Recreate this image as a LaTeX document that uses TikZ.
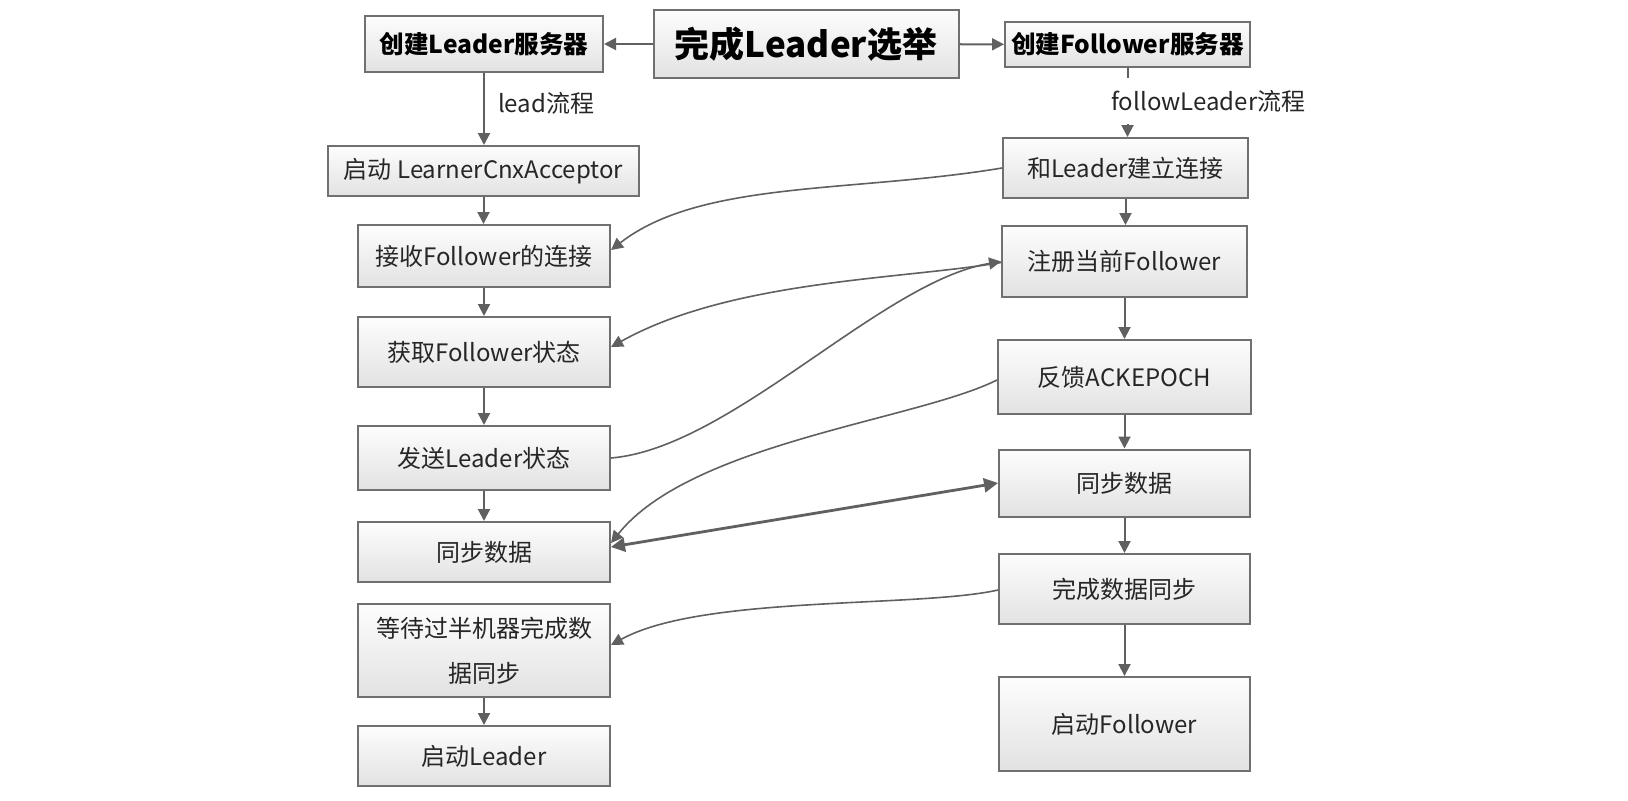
\documentclass[tikz,border=0pt]{standalone}
\usepackage{fontspec}
\setmainfont{Noto Sans CJK SC}
\usetikzlibrary{arrows.meta}
\definecolor{boxline}{RGB}{112,112,112}
\definecolor{arrowgray}{RGB}{96,96,96}
\definecolor{txtgray}{RGB}{38,38,38}
\definecolor{boxtop}{RGB}{253,253,253}
\definecolor{boxbot}{RGB}{226,226,226}
\tikzset{
  stepbox/.style={draw=boxline, line width=1pt, top color=boxtop, bottom color=boxbot,
    inner sep=0pt, align=center, font=\fontsize{12}{22.5}\selectfont, text=txtgray},
  headbox/.style={stepbox, font=\fontsize{12.3}{15}\selectfont\bfseries, text=black},
  titlebox/.style={stepbox, font=\fontsize{17.5}{20}\selectfont\bfseries, text=black},
  bsize/.style 2 args={minimum width=#1*0.5pt, minimum height=#2*0.5pt},
  flow/.style={-{Triangle[length=6pt,width=6pt]}, line width=1pt, arrowgray},
  back/.style={flow, line width=0.8pt},
  sync/.style={{Triangle[length=7pt,width=7pt]}-{Triangle[length=7pt,width=7pt]},
    line width=1.4pt, arrowgray},
  lbl/.style={font=\fontsize{12}{14}\selectfont, text=txtgray, anchor=west},
}
\begin{document}
\begin{tikzpicture}[x=0.5pt,y=-0.5pt]
  \useasboundingbox (0,0) rectangle (1628,800);
  % --- top row ---
  \node[titlebox, bsize={305}{68}] (elect) at (806,44) {完成Leader选举};
  \node[headbox, bsize={238}{56}] (lcreate) at (484,44) {创建Leader服务器};
  \node[headbox, bsize={245}{45}] (fcreate) at (1127.5,44.5) {创建Follower服务器};
  % --- Leader side ---
  \node[stepbox, bsize={311}{50}] (lstart) at (483.5,171) {启动 LearnerCnxAcceptor};
  \node[stepbox, bsize={252}{62}] (accept) at (484,256) {接收Follower的连接};
  \node[stepbox, bsize={252}{70}] (getstate) at (484,352) {获取Follower状态};
  \node[stepbox, bsize={252}{64}] (sendstate) at (484,458) {发送Leader状态};
  \node[stepbox, bsize={252}{60}] (lsync) at (484,552) {同步数据};
  \node[stepbox, bsize={252}{93}] (waithalf) at (484,650.5) {等待过半机器完成数\\据同步};
  \node[stepbox, bsize={252}{60}] (lrun) at (484,756) {启动Leader};
  % --- Follower side ---
  \node[stepbox, bsize={245}{60}] (connect) at (1125.5,168) {和Leader建立连接};
  \node[stepbox, bsize={245}{71}] (register) at (1124.5,261.5) {注册当前Follower};
  \node[stepbox, bsize={253}{74}] (ackepoch) at (1124.5,377) {反馈ACKEPOCH};
  \node[stepbox, bsize={251}{67}] (fsync) at (1124.5,483) {同步数据};
  \node[stepbox, bsize={251}{70}] (fdone) at (1124.5,589) {完成数据同步};
  \node[stepbox, bsize={251}{94}] (frun) at (1124.5,724) {启动Follower};
  % split after the election
  \draw[flow] (elect) -- (lcreate);
  \draw[flow] (elect) -- (fcreate);
  % leader chain
  \draw[flow] (lcreate.south) -- (lcreate.south |- lstart.north);
  \node[lbl] (leadlbl) at (491,103) {lead流程};
  \draw[flow] (lstart.south) -- (lstart.south |- accept.north);
  \draw[flow] (accept) -- (getstate);
  \draw[flow] (getstate) -- (sendstate);
  \draw[flow] (sendstate) -- (lsync);
  \draw[flow] (waithalf) -- (lrun);
  % follower chain
  \draw[flow] (fcreate.south) -- (fcreate.south |- connect.north);
  \node[lbl, fill=white, inner ysep=6pt, inner xsep=1pt] (followlbl) at (1109,101) {followLeader流程};
  \draw[flow] (connect.south) -- (connect.south |- register.north);
  \draw[flow] (register) -- (ackepoch);
  \draw[flow] (ackepoch) -- (fsync);
  \draw[flow] (fsync) -- (fdone);
  \draw[flow] (fdone) -- (frun);
  % messages between the two sides
  \draw[back] (connect.west) .. controls +(-150,25) and +(90,-70) .. ([yshift=3pt]accept.east);
  \draw[back] ([yshift=-0.5pt]register.west) .. controls +(-100,17) and +(120,-67) .. ([yshift=2.5pt]getstate.east);
  \draw[back] (sendstate.east) .. controls +(120,-10) and +(-120,20) .. (register.west);
  \draw[back] ([yshift=-1.5pt]ackepoch.west) .. controls +(-80,40) and +(80,-100) .. ([yshift=4.5pt]lsync.east);
  \draw[sync] ([yshift=2.5pt]lsync.east) -- (fsync.west);
  \draw[back] ([yshift=-0.5pt]fdone.west) .. controls +(-80,18) and +(90,-50) .. ([yshift=2.75pt]waithalf.east);
\end{tikzpicture}
\end{document}
